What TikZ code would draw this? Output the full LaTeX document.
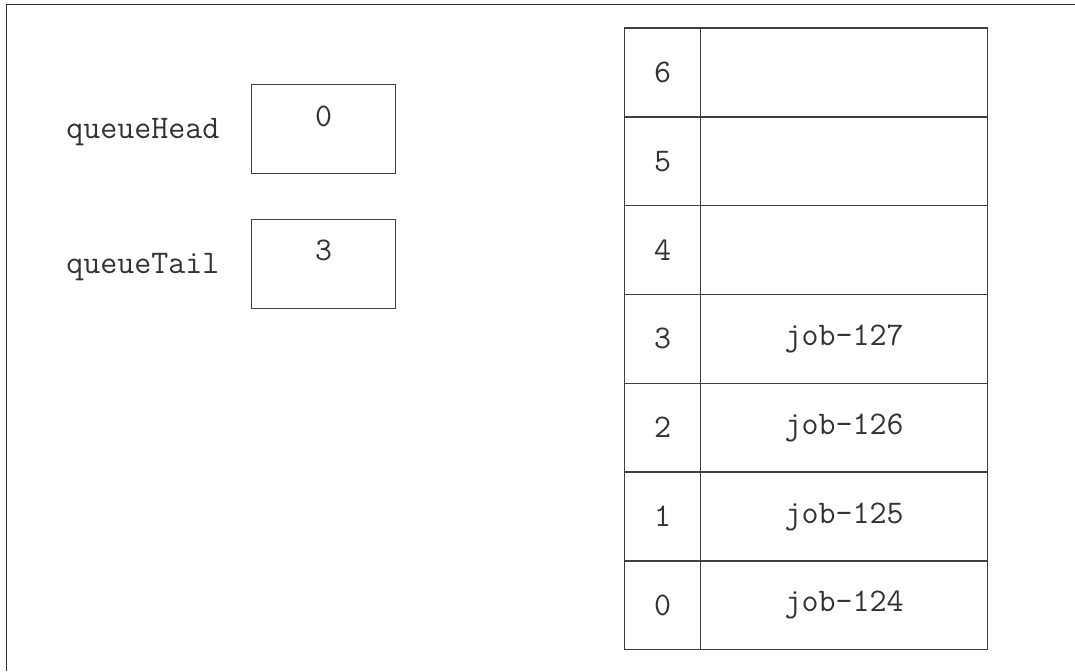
\documentclass[tikz,border=0pt]{standalone}

\begin{document}
\begin{tikzpicture}[x=0.5pt,y=-0.5pt,
  cell/.style={draw=black!75,line width=0.65pt,inner sep=0pt,minimum height=44.4pt},
  txt/.style={font=\fontsize{16.5}{19}\selectfont\ttfamily,text=black!80,inner sep=0pt}]
  \useasboundingbox (0,0) rectangle (1075,671);
  \coordinate (F1) at (6.5,671);
  \coordinate (F2) at (6.5,4.7);
  \coordinate (F3) at (1075,4.7);
  \draw[black!80,line width=0.7pt] (F1) -- (F2) -- (F3);
  \node[cell,minimum width=72.2pt] (H) at (323.5,129) {};
  \node[cell,minimum width=72.2pt] (T) at (323.5,263.8) {};
  \node[txt] (Hv) at ([yshift=-16pt]H.north) {0};
  \node[txt] (Tv) at ([yshift=-16pt]T.north) {3};
  \node[txt,anchor=base west] (Hl) at (66,138.3) {queueHead};
  \node[txt,anchor=base west] (Tl) at (66,273) {queueTail};
  \foreach \i in {0,...,6}{
    \node[cell,minimum width=37.8pt] (I\i) at (662.5,{605.3-88.8*\i}) {};
    \node[cell,minimum width=143.7pt] (V\i) at (844,{605.3-88.8*\i}) {};
    \node[txt] (N\i) at (I\i) {\i};
  }
  \foreach \i/\j in {0/124,1/125,2/126,3/127}
    \node[txt] (J\i) at (V\i) {job-\j};
\end{tikzpicture}
\end{document}
